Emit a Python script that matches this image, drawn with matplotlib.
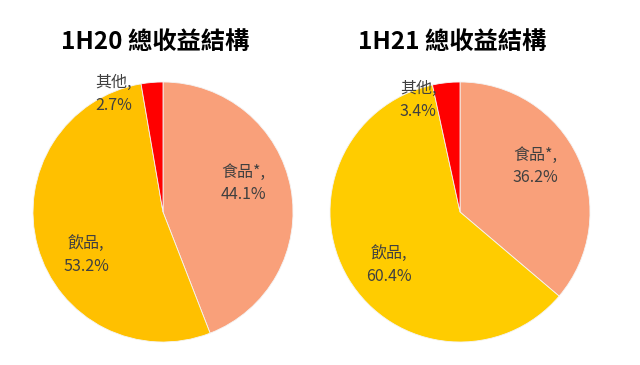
import matplotlib
matplotlib.use("Agg")
import matplotlib.pyplot as plt

plt.rcParams['font.family'] = ['Noto Sans CJK TC', 'DejaVu Sans']

categories = ["食品*", "飲品", "其他"]
values_1h20 = [44.1, 53.2, 2.7]
values_1h21 = [36.2, 60.4, 3.4]
titles = ["1H20 總收益結構", "1H21 總收益結構"]

colors_1h20 = ["#F9A07A", "#FFC000", "#FF0000"]
colors_1h21 = ["#F9A07A", "#FFCC00", "#FF0000"]

W, H = 640, 365
fig = plt.figure(figsize=(W / 100, H / 100), dpi=100)

R = 130
specs = [
    (163, 212, values_1h20, colors_1h20, titles[0], 155,
     [(0.62, 0.22), (-0.59, -0.33), (-0.38, 0.91)]),
    (460, 212, values_1h21, colors_1h21, titles[1], 452,
     [(0.58, 0.35), (-0.55, -0.41), (-0.32, 0.86)]),
]

for cx, cy, vals, cols, title, tx, lpos in specs:
    ax = fig.add_axes([(cx - R) / W, (H - cy - R) / H, 2 * R / W, 2 * R / H])
    ax.pie(vals, colors=cols, startangle=90, counterclock=False,
           wedgeprops=dict(edgecolor="#f4f4f4", linewidth=0.6))
    ax.set_xlim(-1, 1)
    ax.set_ylim(-1, 1)
    ax.set_aspect("equal")
    ax.axis("off")
    for cat, v, (x, y) in zip(categories, vals, lpos):
        ax.text(x, y, f"{cat},\n{v:.1f}%", ha="center", va="center",
                fontsize=11.5, color="#404040", linespacing=1.45)
    fig.text(tx / W, 1 - 42 / H, title, ha="center", va="center",
             fontsize=17.5, fontweight="bold", color="black")

fig.savefig("out.png", dpi=100)
